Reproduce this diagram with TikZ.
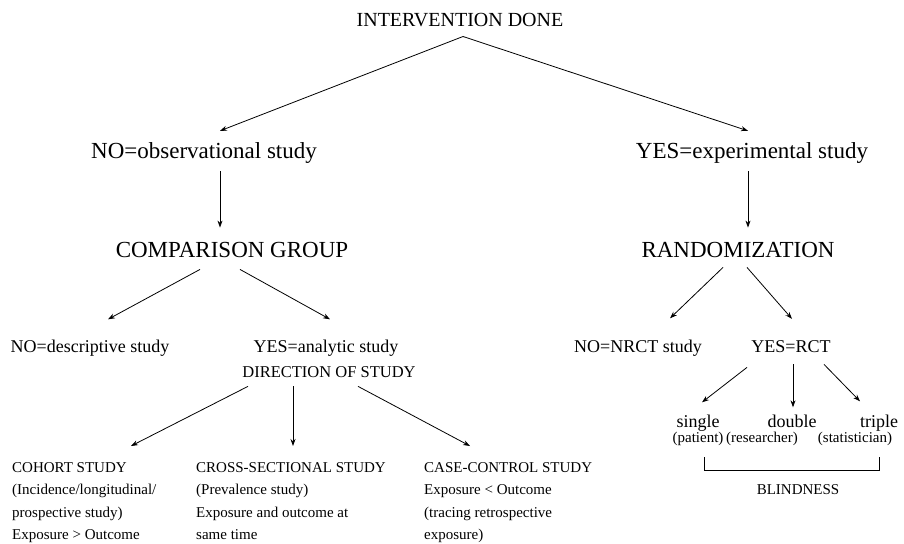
\documentclass[tikz,border=0pt]{standalone}
\usepackage{fontspec}
\setmainfont{Liberation Serif}
\usetikzlibrary{arrows.meta}
\begin{document}
\begin{tikzpicture}[x=1pt,y=-1pt,
  big/.style={font=\fontsize{23}{27}\selectfont, inner sep=0pt, anchor=base},
  head/.style={font=\fontsize{20}{24}\selectfont, inner sep=0pt, anchor=base},
  mid/.style={font=\fontsize{18}{22}\selectfont, inner sep=0pt, anchor=base},
  dirs/.style={font=\fontsize{16.5}{20}\selectfont, inner sep=0pt, anchor=base},
  small/.style={font=\fontsize{15}{18}\selectfont, inner sep=0pt, anchor=base},
  block/.style={font=\fontsize{15}{22.5}\selectfont, inner sep=0pt, anchor=north west, align=left},
  arr/.style={-{Stealth[length=7pt,width=5pt]}, line width=0.8pt},
  bracket/.style={line width=0.8pt}]
\useasboundingbox (0,0) rectangle (904,543);
% level 0
\node[head] (top) at (460,27) {INTERVENTION DONE};
% level 1
\node[big] (obs) at (204,158) {NO=observational study};
\node[big] (exp) at (752,158) {YES=experimental study};
% level 2
\node[big] (comp) at (232,257) {COMPARISON GROUP};
\node[big] (rand) at (738,257) {RANDOMIZATION};
% level 3
\node[mid] (desc) at (90,352) {NO=descriptive study};
\node[mid] (anal) at (326,352) {YES=analytic study};
\node[dirs] (dir) at (329,377) {DIRECTION OF STUDY};
\node[mid] (nrct) at (638,352) {NO=NRCT study};
\node[mid] (rct) at (791,352) {YES=RCT};
% blinding
\node[mid] (single) at (698,427) {single};
\node[mid] (double) at (792,427) {double};
\node[mid] (triple) at (879,427) {triple};
\node[small] (pat) at (698,442) {(patient)};
\node[small] (res) at (762,442) {(researcher)};
\node[small] (stat) at (855,442) {(statistician)};
\node[small] (blind) at (798,494) {BLINDNESS};
% study designs
\node[block] (cohort) at (12,462) {COHORT STUDY\\(Incidence/longitudinal/\\prospective study)\\Exposure {>} Outcome};
\node[block] (cross) at (196,462) {CROSS-SECTIONAL STUDY\\(Prevalence study)\\Exposure and outcome at\\same time};
\node[block] (case) at (424,462) {CASE-CONTROL STUDY\\Exposure {<} Outcome\\(tracing retrospective\\exposure)};
% connectors
\draw[arr] ([xshift=3pt,yshift=-9pt]top.south) -- ([xshift=16pt,yshift=11pt]obs.north);
\draw[arr] ([xshift=3pt,yshift=-9pt]top.south) -- ([xshift=-4pt,yshift=11pt]exp.north);
\draw[arr] ([xshift=16pt,yshift=-8pt]obs.south) -- ([xshift=-12pt,yshift=14pt]comp.north);
\draw[arr] ([xshift=-4pt,yshift=-8pt]exp.south) -- ([xshift=10pt,yshift=14pt]rand.north);
\draw[arr] ([xshift=-32pt,yshift=-12pt]comp.south) -- ([xshift=18pt,yshift=20pt]desc.north);
\draw[arr] ([xshift=8pt,yshift=-12pt]comp.south) -- ([xshift=4pt,yshift=20pt]anal.north);
\draw[arr] ([xshift=-15pt,yshift=-10pt]rand.south) -- ([xshift=32pt,yshift=21pt]nrct.north);
\draw[arr] ([xshift=9pt,yshift=-10pt]rand.south) -- ([xshift=1pt,yshift=21pt]rct.north);
\draw[arr] ([xshift=-81pt,yshift=-9pt]dir.south) -- ([xshift=119pt,yshift=16pt]cohort.north west);
\draw[arr] ([xshift=-36pt,yshift=-9pt]dir.south) -- ([xshift=97pt,yshift=16pt]cross.north west);
\draw[arr] ([xshift=29pt,yshift=-9pt]dir.south) -- ([xshift=46pt,yshift=16pt]case.north west);
\draw[arr] ([xshift=-44pt,yshift=-15pt]rct.south) -- ([xshift=4pt,yshift=12pt]single.north);
\draw[arr] ([xshift=2pt,yshift=-12pt]rct.south) -- ([xshift=1pt,yshift=7pt]double.north);
\draw[arr] ([xshift=33pt,yshift=-12pt]rct.south) -- ([xshift=-19pt,yshift=13pt]triple.north);
\draw[bracket] ([xshift=6pt,yshift=-12pt]pat.south) |- ([yshift=13pt]blind.north) -| ([xshift=24pt,yshift=-12pt]stat.south);
\end{tikzpicture}
\end{document}
